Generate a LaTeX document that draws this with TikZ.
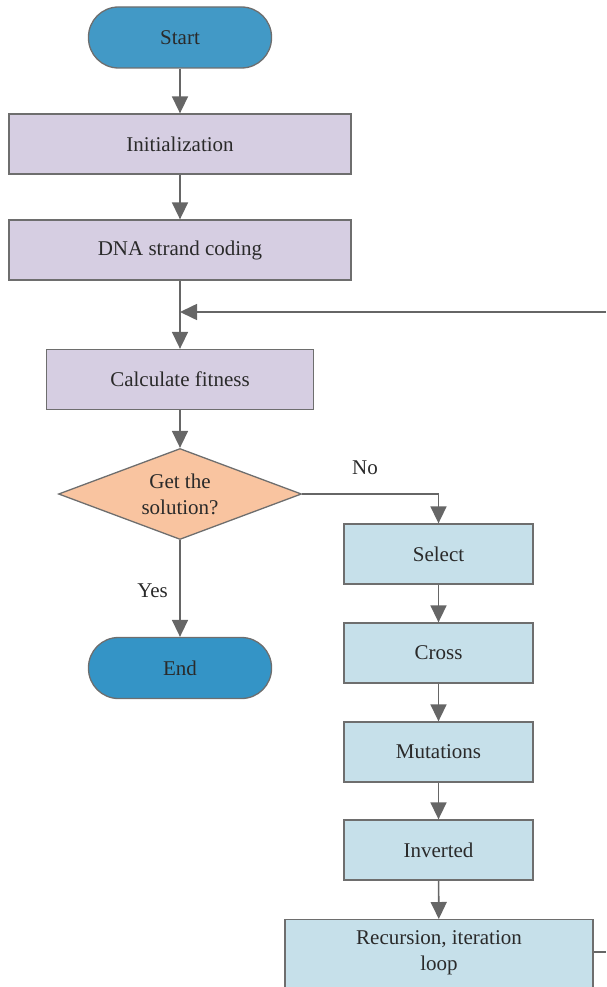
\documentclass[tikz,border=0pt]{standalone}
\usepackage{fontspec}
\setmainfont{Liberation Serif}
\usetikzlibrary{arrows.meta,shapes.geometric}
\definecolor{edgegray}{HTML}{6E6E6E}
\definecolor{arrowgray}{HTML}{666666}
\definecolor{startblue}{HTML}{4299C6}
\definecolor{endblue}{HTML}{3494C6}
\definecolor{lilac}{HTML}{D6CEE2}
\definecolor{paleblue}{HTML}{C6E0EA}
\definecolor{peach}{HTML}{F9C4A0}
\definecolor{textgray}{HTML}{2A2A2A}
\begin{document}
\begin{tikzpicture}[x=1pt,y=-1pt,
  every node/.style={font=\fontsize{21}{26}\selectfont, text=textgray},
  term/.style={draw=edgegray, line width=1.3pt, rounded corners=30pt, minimum width=183pt, minimum height=61pt, inner sep=0pt},
  purplebox/.style={draw=edgegray, line width=1.3pt, fill=lilac, minimum height=60pt, inner sep=0pt},
  bluebox/.style={draw=edgegray, line width=1.3pt, fill=paleblue, minimum height=60pt, minimum width=189pt, inner sep=0pt},
  decision/.style={draw=edgegray, line width=1.3pt, fill=peach, diamond, aspect=2.7, minimum width=243pt, minimum height=91pt, inner sep=0pt, align=center},
  flow/.style={draw=arrowgray, line width=1.6pt, -{Triangle[length=17pt,width=16pt]}},
  plain/.style={draw=arrowgray, line width=1.6pt}
]
\useasboundingbox (0,0) rectangle (606,987);

\node[term, fill=startblue] (start) at (180,37.5) {Start};
\node[purplebox, minimum width=342pt] (init) at (180,144) {Initialization};
\node[purplebox, minimum width=342pt] (dna) at (180,250) {DNA strand coding};
\node[purplebox, minimum width=267pt] (fit) at (180,379.5) {Calculate fitness};
\node[decision] (dec) at (180,494) {Get the\\solution?};
\node[term, fill=endblue] (end) at (180,668) {End};

\node[bluebox] (sel) at (438.5,554) {Select};
\node[bluebox] (cross) at (438.5,653) {Cross};
\node[bluebox] (mut) at (438.5,752) {Mutations};
\node[bluebox] (inv) at (438.5,850) {Inverted};
\node[draw=edgegray, line width=1.3pt, fill=paleblue, minimum width=308pt, minimum height=100pt, inner sep=0pt, anchor=north] (rec) at (439,919) {};
\node[align=center] (rectext) at (439,953) {Recursion, iteration\\loop};

\coordinate (loopin) at (606,312);
\coordinate (loopmerge) at (180,312);
\coordinate (recout) at (606,952);
\coordinate (nocorner) at (438.5,494);

\draw[flow] (start) -- (init);
\draw[flow] (init) -- (dna);
\draw[flow] (dna) -- (fit);
\draw[flow] (loopin) -- (loopmerge);
\draw[flow] (fit) -- (dec);
\draw[flow] (dec.south) -- node[pos=0.52, left=8pt] {Yes} (end);
\draw[flow] (dec.east) -- (nocorner) -- (sel);
\node at (365,468) {No};
\draw[flow] (sel) -- (cross);
\draw[flow] (cross) -- (mut);
\draw[flow] (mut) -- (inv);
\draw[flow] (inv) -- (rec);
\draw[plain] (rec.east |- recout) -- (recout);
\end{tikzpicture}
\end{document}
